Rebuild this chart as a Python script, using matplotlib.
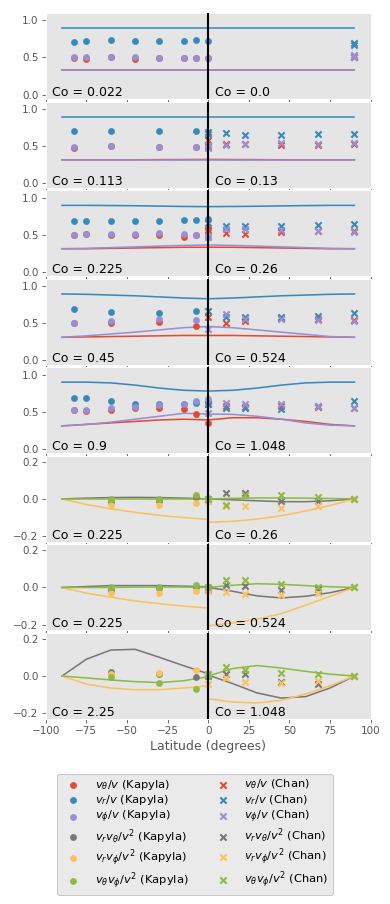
import matplotlib
matplotlib.use('Agg')
import matplotlib.pyplot as plt

plt.style.use('ggplot')
plt.rcParams['axes.grid'] = False

# Coriolis numbers written in each panel
co_kap = ['0.022', '0.113', '0.225', '0.45', '0.9', '0.225', '0.225', '2.25']
co_chan = ['0.0', '0.13', '0.26', '0.524', '1.048', '0.26', '0.524', '1.048']

# latitudes of the model curves (left: Kapyla side, right: Chan side)
lat_line_k = [-90, -75, -60, -45, -30, -15, 0]
lat_line_c = [0, 15, 30, 45, 60, 75, 90]

# ---- velocity ratio panels (5) ----
kap_lat = [[-82.5, -75, -60, -45, -30, -15, -7.5, 0],
           [-82.5, -60, -30, -7.5],
           [-82.5, -75, -60, -45, -30, -15, -7.5, 0],
           [-82.5, -60, -30, -7.5],
           [-82.5, -75, -60, -45, -30, -15, -7.5, 0]]
kap_vth = [[0.49, 0.48, 0.51, 0.48, 0.49, 0.49, 0.49, 0.49],
           [0.48, 0.50, 0.49, 0.49],
           [0.50, 0.51, 0.50, 0.49, 0.49, 0.47, 0.50, 0.58],
           [0.50, 0.50, 0.51, 0.465],
           [0.52, 0.505, 0.53, 0.555, 0.545, 0.535, 0.47, 0.35]]
kap_vr = [[0.71, 0.72, 0.73, 0.72, 0.72, 0.72, 0.73, 0.72],
          [0.71, 0.71, 0.71, 0.71],
          [0.69, 0.69, 0.68, 0.69, 0.69, 0.70, 0.70, 0.715],
          [0.69, 0.65, 0.64, 0.665],
          [0.68, 0.68, 0.645, 0.61, 0.61, 0.60, 0.62, 0.62]]
kap_vph = [[0.50, 0.50, 0.50, 0.50, 0.49, 0.49, 0.49, 0.49],
           [0.49, 0.50, 0.49, 0.49],
           [0.50, 0.51, 0.51, 0.515, 0.52, 0.51, 0.50, 0.47],
           [0.50, 0.535, 0.56, 0.55],
           [0.52, 0.52, 0.545, 0.56, 0.59, 0.60, 0.645, 0.67]]

chan_lat = [[90, 90],
            [0, 0, 11.25, 22.5, 45, 67.5, 90],
            [0, 11.25, 22.5, 45, 67.5, 90],
            [0, 11.25, 22.5, 45, 67.5, 90],
            [0, 11.25, 22.5, 45, 67.5, 90]]
chan_vth = [[0.51, 0.50],
            [0.58, 0.50, 0.53, 0.53, 0.51, 0.52, 0.53],
            [0.56, 0.52, 0.51, 0.53, 0.55, 0.55],
            [0.59, 0.50, 0.535, 0.57, 0.56, 0.54],
            [0.60, 0.58, 0.56, 0.58, 0.57, 0.55]]
chan_vr = [[0.70, 0.67],
           [0.69, 0.66, 0.67, 0.65, 0.65, 0.66, 0.66],
           [0.66, 0.62, 0.61, 0.62, 0.63, 0.65],
           [0.66, 0.58, 0.58, 0.58, 0.60, 0.64],
           [0.61, 0.545, 0.545, 0.535, 0.58, 0.64]]
chan_vph = [[0.53, 0.51],
            [0.52, 0.48, 0.51, 0.53, 0.54, 0.53, 0.54],
            [0.47, 0.57, 0.58, 0.56, 0.55, 0.53],
            [0.42, 0.63, 0.56, 0.56, 0.545, 0.535],
            [0.48, 0.62, 0.61, 0.61, 0.58, 0.545]]

line_k_vth = [[0.33, 0.33, 0.33, 0.33, 0.33, 0.33, 0.33],
              [0.315, 0.315, 0.315, 0.315, 0.317, 0.318, 0.32],
              [0.31, 0.31, 0.315, 0.32, 0.325, 0.33, 0.33],
              [0.31, 0.315, 0.32, 0.325, 0.33, 0.335, 0.335],
              [0.31, 0.33, 0.35, 0.37, 0.39, 0.40, 0.39]]
line_k_vr = [[0.90, 0.90, 0.90, 0.90, 0.90, 0.90, 0.90],
             [0.89, 0.89, 0.89, 0.89, 0.89, 0.89, 0.89],
             [0.895, 0.895, 0.893, 0.89, 0.885, 0.88, 0.878],
             [0.895, 0.89, 0.88, 0.87, 0.855, 0.84, 0.83],
             [0.90, 0.90, 0.89, 0.86, 0.82, 0.79, 0.78]]
line_k_vph = [[0.33, 0.33, 0.33, 0.33, 0.33, 0.33, 0.33],
              [0.315, 0.315, 0.315, 0.315, 0.315, 0.315, 0.315],
              [0.31, 0.315, 0.325, 0.335, 0.345, 0.355, 0.36],
              [0.31, 0.33, 0.355, 0.38, 0.41, 0.44, 0.455],
              [0.31, 0.33, 0.36, 0.40, 0.44, 0.48, 0.47]]
line_c_vth = [[0.33, 0.33, 0.33, 0.33, 0.33, 0.33, 0.33],
              [0.32, 0.318, 0.317, 0.315, 0.315, 0.315, 0.315],
              [0.33, 0.33, 0.325, 0.32, 0.315, 0.31, 0.31],
              [0.335, 0.335, 0.33, 0.325, 0.32, 0.315, 0.31],
              [0.39, 0.42, 0.42, 0.40, 0.37, 0.33, 0.31]]
line_c_vr = [[0.90, 0.90, 0.90, 0.90, 0.90, 0.90, 0.90],
             [0.89, 0.89, 0.89, 0.89, 0.89, 0.89, 0.89],
             [0.878, 0.88, 0.883, 0.888, 0.892, 0.895, 0.895],
             [0.83, 0.84, 0.855, 0.87, 0.88, 0.89, 0.895],
             [0.78, 0.79, 0.82, 0.86, 0.89, 0.90, 0.90]]
line_c_vph = [[0.33, 0.33, 0.33, 0.33, 0.33, 0.33, 0.33],
              [0.315, 0.315, 0.315, 0.315, 0.315, 0.315, 0.315],
              [0.36, 0.355, 0.345, 0.335, 0.325, 0.315, 0.31],
              [0.455, 0.44, 0.41, 0.38, 0.35, 0.32, 0.31],
              [0.47, 0.465, 0.44, 0.40, 0.35, 0.32, 0.31]]

# ---- correlation panels (3) ----
kap_lat_corr = [-60, -30, -7.5, 0]
chan_lat_corr = [0, 11.25, 22.5, 45, 67.5, 90]
kap_rth = [[-0.015, -0.01, 0.01, 0.0],
           [-0.015, -0.005, 0.0, 0.0],
           [0.023, 0.012, -0.005, 0.0]]
kap_rph = [[-0.03, -0.03, -0.02, -0.012],
           [-0.03, -0.03, -0.02, -0.015],
           [0.01, 0.014, 0.031, 0.014]]
kap_thph = [[0.0, 0.0, 0.02, 0.005],
            [0.0, 0.0, 0.015, 0.0],
            [-0.005, -0.035, -0.071, 0.0]]
chan_rth = [[0.0, 0.03, 0.03, -0.01, -0.01, 0.0],
            [-0.01, 0.015, 0.01, -0.015, -0.01, 0.0],
            [0.0, 0.012, 0.012, -0.03, -0.04, 0.0]]
chan_rph = [[-0.01, -0.04, -0.04, -0.05, -0.04, 0.0],
            [-0.02, -0.025, -0.035, -0.04, -0.03, 0.0],
            [-0.04, -0.012, -0.03, -0.038, -0.026, 0.0]]
chan_thph = [[0.0, -0.03, 0.02, 0.02, 0.01, 0.0],
             [0.0, 0.04, 0.04, 0.02, 0.005, 0.0],
             [0.009, 0.047, 0.031, 0.017, 0.009, 0.0]]

line_k_rth = [[0, 0.004, 0.007, 0.008, 0.007, 0.004, 0.0],
              [0, 0.005, 0.01, 0.01, 0.01, 0.007, 0.003],
              [0, 0.09, 0.139, 0.143, 0.10, 0.055, 0.012]]
line_k_rph = [[0, -0.03, -0.053, -0.072, -0.088, -0.10, -0.11],
              [0, -0.03, -0.052, -0.072, -0.087, -0.10, -0.11],
              [0, -0.043, -0.064, -0.073, -0.073, -0.064, -0.052]]
line_k_thph = [[0, 0, 0, 0, 0, 0, 0],
               [0, 0, 0, 0.002, 0.003, 0.002, 0],
               [0, -0.01, -0.021, -0.03, -0.035, -0.025, -0.003]]
line_c_rth = [[0, -0.005, -0.01, -0.015, -0.015, -0.01, 0],
              [0, -0.02, -0.045, -0.056, -0.047, -0.028, 0],
              [0.005, -0.04, -0.09, -0.118, -0.11, -0.064, 0]]
line_c_rph = [[-0.125, -0.12, -0.108, -0.09, -0.065, -0.035, 0],
              [-0.205, -0.19, -0.17, -0.14, -0.095, -0.047, 0],
              [-0.122, -0.139, -0.144, -0.13, -0.096, -0.052, 0]]
line_c_thph = [[0, 0.003, 0.005, 0.005, 0.004, 0.002, 0],
               [0, 0.012, 0.02, 0.017, 0.01, 0.004, 0],
               [0, 0.04, 0.056, 0.043, 0.025, 0.01, 0]]

cols = plt.rcParams['axes.prop_cycle'].by_key()['color']
c_th, c_r, c_ph, c_rth, c_rph, c_thph = cols[:6]

fig, axes = plt.subplots(8, 1, sharex=True, figsize=(391 / 75, 904 / 75))
fig.subplots_adjust(left=0.117, right=0.948, top=0.9856, bottom=0.2046, hspace=0.03)

handles_k = []
handles_c = []
for i in range(5):
    ax = axes[i]
    for lk, lc, col in [(line_k_vth, line_c_vth, c_th), (line_k_vr, line_c_vr, c_r),
                        (line_k_vph, line_c_vph, c_ph)]:
        ax.plot(lat_line_k, lk[i], color=col, lw=1.5)
        ax.plot(lat_line_c, lc[i], color=col, lw=1.5)
    hk = []
    hc = []
    for dk, dc, col in [(kap_vth, chan_vth, c_th), (kap_vr, chan_vr, c_r),
                        (kap_vph, chan_vph, c_ph)]:
        hk.append(ax.scatter(kap_lat[i], dk[i], color=col, marker='o', s=36, zorder=3))
        hc.append(ax.scatter(chan_lat[i], dc[i], color=col, marker='x', s=36,
                             linewidths=2, zorder=3))
    if i == 0:
        handles_k += hk
        handles_c += hc
    ax.set_ylim(-0.06, 1.1)
    ax.set_yticks([0.0, 0.5, 1.0])

for j in range(3):
    ax = axes[5 + j]
    for lk, lc, col in [(line_k_rth, line_c_rth, c_rth), (line_k_rph, line_c_rph, c_rph),
                        (line_k_thph, line_c_thph, c_thph)]:
        ax.plot(lat_line_k, lk[j], color=col, lw=1.5)
        ax.plot(lat_line_c, lc[j], color=col, lw=1.5)
    hk = []
    hc = []
    for dk, dc, col in [(kap_rth, chan_rth, c_rth), (kap_rph, chan_rph, c_rph),
                        (kap_thph, chan_thph, c_thph)]:
        hk.append(ax.scatter(kap_lat_corr, dk[j], color=col, marker='o', s=36, zorder=3))
        hc.append(ax.scatter(chan_lat_corr, dc[j], color=col, marker='x', s=36,
                             linewidths=2, zorder=3))
    if j == 0:
        handles_k += hk
        handles_c += hc
    ax.set_ylim(-0.23, 0.23)
    ax.set_yticks([-0.2, 0.0, 0.2])

for i, ax in enumerate(axes):
    ax.axvline(0, color='k', lw=2, zorder=4)
    ax.text(0.018, 0.035, 'Co = ' + co_kap[i], transform=ax.transAxes, fontsize=12, va='baseline')
    ax.text(0.522, 0.035, 'Co = ' + co_chan[i], transform=ax.transAxes, fontsize=12, va='baseline')

axes[-1].set_xlim(-100, 100)
axes[-1].set_xticks([-100, -75, -50, -25, 0, 25, 50, 75, 100])
axes[-1].set_xlabel('Latitude (degrees)')

labels_k = [r'$v_\theta/v$ (Kapyla)', r'$v_r/v$ (Kapyla)', r'$v_\phi/v$ (Kapyla)',
            r'$v_rv_\theta/v^2$ (Kapyla)', r'$v_rv_\phi/v^2$ (Kapyla)', r'$v_\theta v_\phi/v^2$ (Kapyla)']
labels_c = [r'$v_\theta/v$ (Chan)', r'$v_r/v$ (Chan)', r'$v_\phi/v$ (Chan)',
            r'$v_rv_\theta/v^2$ (Chan)', r'$v_rv_\phi/v^2$ (Chan)', r'$v_\theta v_\phi/v^2$ (Chan)']
leg = fig.legend(handles_k + handles_c, labels_k + labels_c, ncol=2, loc='center',
                 bbox_to_anchor=(0.499, 0.077), fontsize=11, labelspacing=0.15,
                 borderpad=0.35, handletextpad=0.9)
leg.get_frame().set_edgecolor('0.55')

fig.savefig('out.png', dpi=75)
